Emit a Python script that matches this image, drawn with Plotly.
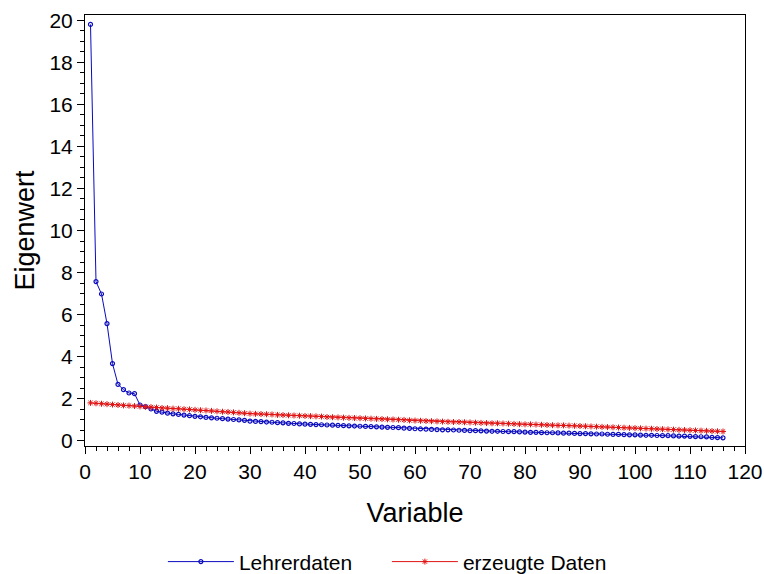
# scree plot: observed eigenvalues vs. eigenvalues of generated data

import plotly.graph_objects as go

variable = list(range(1, 117))

lehrerdaten = [
    19.80, 7.57, 6.98, 5.57, 3.67, 2.68, 2.43, 2.27, 2.24, 1.70,
    1.62, 1.51, 1.40, 1.36, 1.31, 1.28, 1.25, 1.22, 1.19, 1.16,
    1.14, 1.11, 1.09, 1.07, 1.05, 1.03, 1.01, 0.99, 0.97, 0.93,
    0.92, 0.91, 0.89, 0.88, 0.86, 0.85, 0.83, 0.82, 0.80, 0.79,
    0.78, 0.77, 0.76, 0.75, 0.74, 0.73, 0.72, 0.71, 0.70, 0.69,
    0.68, 0.67, 0.66, 0.65, 0.64, 0.63, 0.62, 0.60, 0.59, 0.57,
    0.56, 0.55, 0.54, 0.53, 0.52, 0.52, 0.51, 0.50, 0.49, 0.48,
    0.48, 0.47, 0.46, 0.45, 0.45, 0.44, 0.43, 0.43, 0.42, 0.41,
    0.40, 0.40, 0.39, 0.38, 0.38, 0.37, 0.36, 0.36, 0.35, 0.34,
    0.34, 0.33, 0.32, 0.32, 0.31, 0.30, 0.30, 0.29, 0.28, 0.28,
    0.27, 0.26, 0.26, 0.25, 0.24, 0.24, 0.23, 0.22, 0.22, 0.21,
    0.20, 0.19, 0.18, 0.16, 0.15, 0.14,
]

erzeugte_daten = [
    1.80, 1.78, 1.76, 1.74, 1.72, 1.70, 1.68, 1.67, 1.65, 1.63,
    1.61, 1.60, 1.58, 1.56, 1.55, 1.53, 1.52, 1.50, 1.49, 1.47,
    1.45, 1.44, 1.42, 1.40, 1.38, 1.37, 1.35, 1.33, 1.31, 1.29,
    1.28, 1.27, 1.26, 1.25, 1.23, 1.22, 1.21, 1.20, 1.19, 1.18,
    1.17, 1.16, 1.15, 1.13, 1.12, 1.11, 1.10, 1.09, 1.08, 1.07,
    1.06, 1.05, 1.04, 1.03, 1.02, 1.01, 1.00, 0.99, 0.97, 0.96,
    0.95, 0.94, 0.93, 0.92, 0.91, 0.90, 0.89, 0.89, 0.88, 0.87,
    0.86, 0.85, 0.84, 0.83, 0.83, 0.82, 0.81, 0.80, 0.79, 0.78,
    0.78, 0.77, 0.76, 0.75, 0.74, 0.73, 0.73, 0.72, 0.71, 0.70,
    0.69, 0.68, 0.67, 0.66, 0.65, 0.64, 0.63, 0.62, 0.61, 0.60,
    0.59, 0.58, 0.57, 0.56, 0.55, 0.54, 0.53, 0.52, 0.51, 0.50,
    0.49, 0.48, 0.47, 0.46, 0.45, 0.44,
]

blue = "rgb(10,10,190)"
red = "rgb(225,20,20)"
font = "Liberation Sans, Arial, sans-serif"

fig = go.Figure()
fig.add_trace(go.Scatter(
    x=variable, y=lehrerdaten, name="Lehrerdaten", mode="lines+markers",
    line=dict(color=blue, width=1),
    marker=dict(symbol="circle-open", size=4, color=blue, line=dict(width=1.2)),
))
fig.add_trace(go.Scatter(
    x=variable, y=erzeugte_daten, name="erzeugte Daten", mode="lines+markers",
    line=dict(color=red, width=1),
    marker=dict(symbol="asterisk-open", size=5, color=red, line=dict(width=1, color=red)),
))

axis_common = dict(
    showline=True, linecolor="black", linewidth=1, mirror=True,
    showgrid=False, zeroline=False, automargin=False,
    ticks="outside", ticklen=7, tickcolor="black", tickwidth=1,
    tickfont=dict(size=21, color="black", family=font),
)

fig.update_xaxes(
    range=[0, 120], tick0=0, dtick=10,
    minor=dict(ticks="outside", ticklen=4, dtick=2, tick0=0, tickcolor="black", showgrid=False),
    title=dict(text="Variable", font=dict(size=27, color="black", family=font), standoff=20),
    **axis_common,
)
fig.update_yaxes(
    range=[-0.25, 20.25], tick0=0, dtick=2,
    minor=dict(ticks="outside", ticklen=4, dtick=0.5, tick0=0, tickcolor="black", showgrid=False),
    title=dict(text="Eigenwert", font=dict(size=27, color="black", family=font), standoff=6),
    **axis_common,
)

fig.update_layout(
    width=764, height=574,
    margin=dict(l=85, r=19, t=15, b=128),
    plot_bgcolor="white", paper_bgcolor="white",
    font=dict(family=font, color="black"),
    legend=dict(
        orientation="h", x=0.118, xanchor="left",
        yref="container", y=0.021, yanchor="middle",
        font=dict(size=21, color="black", family=font),
        itemwidth=66, entrywidth=143,
    ),
)

# page body has a default 8px margin; drop it so the figure sits at the window corner
fig.write_html(
    "out.html",
    config={"displayModeBar": False, "responsive": False},
    post_script="document.body.style.margin='0';document.body.style.overflow='hidden';",
)
